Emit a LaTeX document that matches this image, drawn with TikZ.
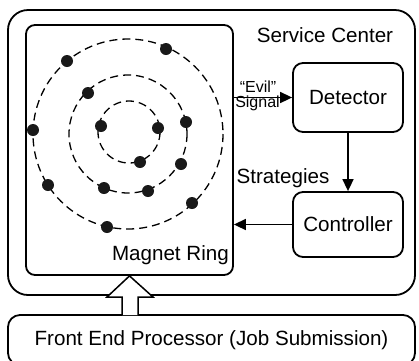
\documentclass[tikz,border=0pt]{standalone}
\usepackage{fontspec}
\setmainfont{Liberation Sans}
\usetikzlibrary{arrows.meta}
\begin{document}
\begin{tikzpicture}[x=1pt,y=-1pt,
  bigfont/.style={font=\fontsize{20.6}{24}\selectfont},
  smallfont/.style={font=\fontsize{16}{18}\selectfont},
  boxline/.style={draw=black,line width=1.8pt},
  rbox/.style={boxline,rounded corners=10pt,minimum width=110pt,inner sep=0pt,bigfont},
  flow/.style={line width=1.6pt,-{Triangle[length=12pt,width=11pt]}},
  ring/.style={line width=1.3pt,dash pattern=on 8pt off 5pt},
  dot/.style={fill=black!90}]
\clip (0,0) rectangle (419,360);
\fill[white] (0,0) rectangle (419,360);
% outer service center
\node[boxline,rounded corners=20pt,minimum width=407pt,minimum height=285pt,inner sep=0pt] (sc) at (211.5,152.5) {};
\node[bigfont] (sctext) at (325,35) {Service Center};
% magnet ring
\node[boxline,rounded corners=9pt,minimum width=207pt,minimum height=250pt,inner sep=0pt] (mr) at (129.5,150) {};
\node[bigfont,anchor=east,inner sep=0pt] (mrtext) at (229,255) {Magnet Ring};
% rings
\draw[ring] (128,134) circle[radius=95];
\draw[ring] (128,134) circle[radius=59];
\draw[ring] (129,132) circle[radius=31];
% dots
\foreach \p in {(67,61),(166,49),(33,130),(48,185),(107,227),(192,203),
                (88,93),(186,122),(181,164),(148,191),(104,188),
                (101,126),(158,128),(140,162)}
  \fill[dot] \p circle[radius=6];
% detector and controller
\node[rbox,minimum height=69pt] (det) at (348,97.5) {Detector};
\node[rbox,minimum height=65pt] (ctl) at (348,224.5) {Controller};
\draw[flow] (mr.east |- det.west) -- (det.west);
\draw[flow] (det.south) -- (ctl.north);
\draw[flow] (ctl.west) -- (mr.east |- ctl.west);
\node[smallfont,inner sep=0pt] (evil) at (258,87) {“Evil”};
\node[smallfont,inner sep=0pt] (signal) at (257.5,103.5) {Signal};
\node[bigfont,inner sep=0pt] (strat) at (283,178) {Strategies};
% front end processor
\node[boxline,rounded corners=12pt,minimum width=407pt,minimum height=50pt,inner sep=0pt,bigfont] (fep) at (211.5,340) {Front End Processor (Job Submission)};
% hollow arrow
\draw[line width=1.5pt,fill=white,line join=miter]
  (122,315) -- (122,297) -- (107,297) -- (mr.south) -- (153,297) -- (138,297) -- (138,315);
\end{tikzpicture}
\end{document}
